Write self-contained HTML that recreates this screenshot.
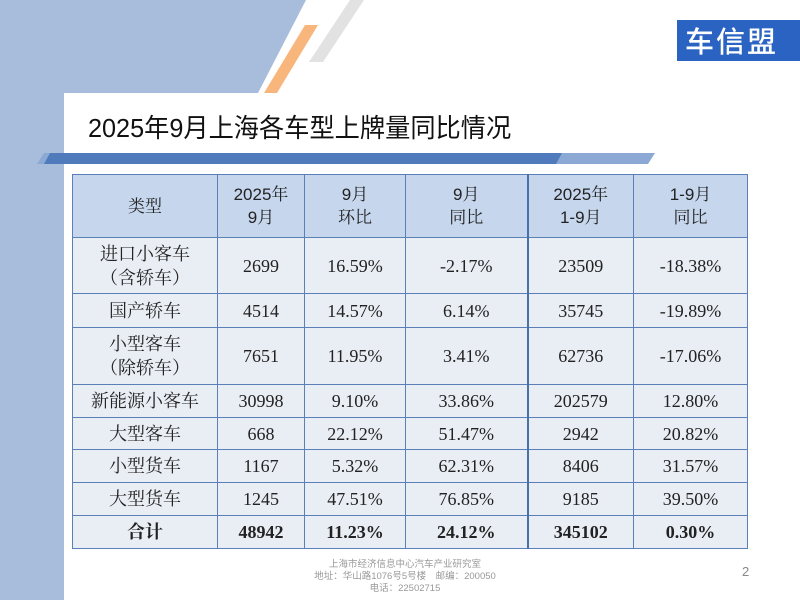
<!DOCTYPE html>
<html><head><meta charset="utf-8">
<style>
*{margin:0;padding:0;box-sizing:border-box}
body{width:800px;height:600px;position:relative;overflow:hidden;background:#fff;font-family:"Liberation Serif","Noto Serif CJK SC",serif}
.abs{position:absolute}
table{position:absolute;left:72px;top:174px;border-collapse:collapse;table-layout:fixed;width:675px}
td{border:1px solid #5b80b8;text-align:center;vertical-align:middle;font-size:18px;color:#222;background:#e9edf4;line-height:24px}
tr.hd td{background:#c6d6ed;font-family:"Liberation Sans","Noto Serif CJK SC",serif;font-size:17px;line-height:23px}
tr.tot td{font-weight:bold}
td.sep{border-left:2px solid #4a70aa}
</style></head><body>
<div class="abs" style="left:0;top:0;width:64px;height:600px;background:#a8bcdc"></div>
<svg class="abs" width="800" height="600" style="left:0;top:0">
<polygon points="0,0 306,0 258,93 0,93" fill="#a8bcdc"/>
<polygon points="305,25 318,25 277,93 264,93" fill="#f9b67c"/>
<polygon points="350,0 364,0 323,62 309,62" fill="#e2e2e2"/>
</svg>
<div class="abs" style="left:64px;top:93px;width:736px;height:507px;background:#fff;border-radius:6px 0 0 0"></div>
<div class="abs" style="left:677px;top:20px;width:123px;height:41px;background:#2a63c2;color:#fff;font-family:'Noto Sans CJK SC',sans-serif;font-weight:500;font-size:29px;line-height:41px;padding-left:8px;letter-spacing:2px">车信盟</div>
<div class="abs" style="left:88px;top:112px;font-family:'Liberation Sans','Noto Sans CJK SC',sans-serif;font-size:26px;color:#111;line-height:32px;transform:scaleX(0.97);transform-origin:left">2025年9月上海各车型上牌量同比情况</div>
<svg class="abs" width="800" height="20" style="left:0;top:150px">
<polygon points="44,3 655,3 648,14 37,14" fill="#8ca8d4"/>
<polygon points="50,3 562,3 556,14 44,14" fill="#4f7bbd"/>
</svg>
<table>
<colgroup><col style="width:145px"><col style="width:87px"><col style="width:101px"><col style="width:122px"><col style="width:106px"><col style="width:114px"></colgroup>
<tr class="hd" style="height:63px"><td>类型</td><td>2025年<br>9月</td><td>9月<br>环比</td><td>9月<br>同比</td><td class="sep">2025年<br>1-9月</td><td>1-9月<br>同比</td></tr>
<tr style="height:56px"><td>进口小客车<br>（含轿车）</td><td>2699</td><td>16.59%</td><td>-2.17%</td><td class="sep">23509</td><td>-18.38%</td></tr>
<tr style="height:34px"><td>国产轿车</td><td>4514</td><td>14.57%</td><td>6.14%</td><td class="sep">35745</td><td>-19.89%</td></tr>
<tr style="height:57px"><td>小型客车<br>（除轿车）</td><td>7651</td><td>11.95%</td><td>3.41%</td><td class="sep">62736</td><td>-17.06%</td></tr>
<tr style="height:33px"><td>新能源小客车</td><td>30998</td><td>9.10%</td><td>33.86%</td><td class="sep">202579</td><td>12.80%</td></tr>
<tr style="height:32px"><td>大型客车</td><td>668</td><td>22.12%</td><td>51.47%</td><td class="sep">2942</td><td>20.82%</td></tr>
<tr style="height:33px"><td>小型货车</td><td>1167</td><td>5.32%</td><td>62.31%</td><td class="sep">8406</td><td>31.57%</td></tr>
<tr style="height:33px"><td>大型货车</td><td>1245</td><td>47.51%</td><td>76.85%</td><td class="sep">9185</td><td>39.50%</td></tr>
<tr class="tot" style="height:33px"><td>合计</td><td>48942</td><td>11.23%</td><td>24.12%</td><td class="sep">345102</td><td>0.30%</td></tr>
</table>
<div class="abs" style="left:290px;top:559px;width:230px;text-align:center;font-family:'Liberation Sans','Noto Sans CJK SC',sans-serif;font-size:9.5px;line-height:12px;color:#999">上海市经济信息中心汽车产业研究室<br>地址：华山路1076号5号楼　邮编：200050<br>电话：22502715</div>
<div class="abs" style="left:742px;top:564px;font-family:'Liberation Sans',sans-serif;font-size:13px;color:#888">2</div>
</body></html>
